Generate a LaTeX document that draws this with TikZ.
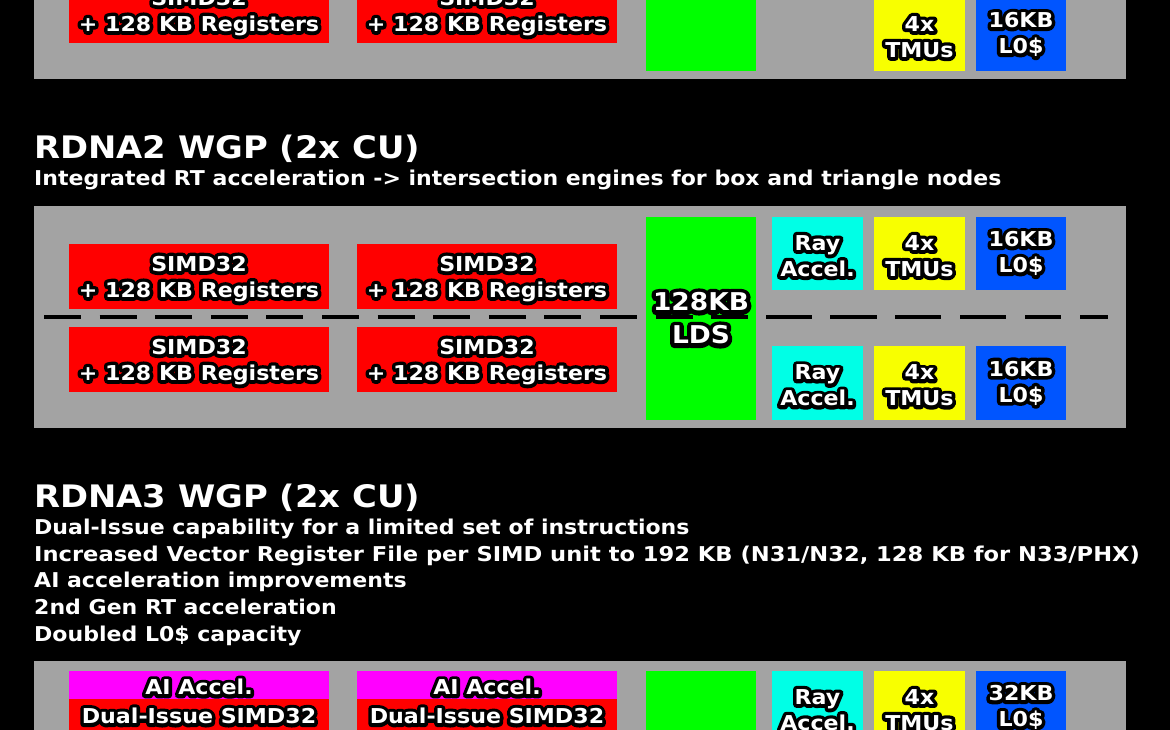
\documentclass[tikz,border=0pt]{standalone}
\usepackage{fontspec}
\setmainfont{DejaVu Sans}[FakeStretch=1.08]
\newfontfamily\olfont{DejaVu Sans}[FakeStretch=1.08, BoldFeatures={FakeBold=35}]
\definecolor{panelgray}{HTML}{A3A3A3}
\definecolor{simdred}{HTML}{FF0000}
\definecolor{ldsgreen}{HTML}{00FF00}
\definecolor{raycyan}{HTML}{00FFE6}
\definecolor{tmuyellow}{HTML}{F8FF00}
\definecolor{cacheblue}{HTML}{0055FF}
\definecolor{aimagenta}{HTML}{FF00FF}
\newcommand\olt[1]{\mbox{\special{pdf:code 1 j}\makebox[0pt][l]{\olfont\color{black}#1}\color{white}#1}}
\newcommand\fl{\rule{0pt}{20pt}}
\begin{document}
\begin{tikzpicture}[x=1pt,y=-1pt,
  box/.style={draw=none, inner sep=0pt, outer sep=0pt, align=center,
    font=\bfseries\fontsize{20.5}{26}\selectfont},
  bigbox/.style={box, font=\bfseries\fontsize{24.5}{33}\selectfont},
  lbl/.style={inner sep=0pt, align=center, font=\bfseries\fontsize{20.5}{26}\selectfont},
  title/.style={anchor=base west, inner sep=0pt, text=white,
    font=\bfseries\fontsize{31}{36}\selectfont},
  subline/.style={anchor=base west, inner sep=0pt, text=white,
    font=\bfseries\fontsize{20.4}{26}\selectfont},
  sep/.style={line width=3.5pt, draw=black}]
\useasboundingbox (0,0) rectangle (1170,730);
\clip (0,0) rectangle (1170,730);
\fill[black] (0,0) rectangle (1170,730);

% ---------- top panel (cut off) ----------
\fill[panelgray] (34,-200) rectangle (1126,79);
\node[box, fill=simdred, minimum width=260, minimum height=65] (t1) at (199,10.5) {\fl\olt{SIMD32}\\\olt{+ 128 KB Registers}};
\node[box, fill=simdred, minimum width=260, minimum height=65] (t2) at (487,10.5) {\fl\olt{SIMD32}\\\olt{+ 128 KB Registers}};
\fill[ldsgreen] (646,-150) rectangle (756,71);
\node[box, fill=tmuyellow, minimum width=91, minimum height=73] (t3) at (919.5,34.5) {\fl\olt{4x}\\\olt{TMUs}};
\node[box, fill=cacheblue, minimum width=90, minimum height=73] (t4) at (1021,34.5) {\olt{16KB}\\\olt{L0\$}};

% ---------- RDNA2 ----------
\node[title] (h2) at (34,159) {\scalebox{1.01}[1]{RDNA2 WGP (2x CU)}};
\node[subline] (s2) at (34,186) {Integrated RT acceleration -> intersection engines for box and triangle nodes};
\fill[panelgray] (34,206) rectangle (1126,428);
\node[box, fill=simdred, minimum width=260, minimum height=65] (m1) at (199,276.5) {\fl\olt{SIMD32}\\\olt{+ 128 KB Registers}};
\node[box, fill=simdred, minimum width=260, minimum height=65] (m2) at (487,276.5) {\fl\olt{SIMD32}\\\olt{+ 128 KB Registers}};
\node[box, fill=simdred, minimum width=260, minimum height=65] (m3) at (199,359.5) {\fl\olt{SIMD32}\\\olt{+ 128 KB Registers}};
\node[box, fill=simdred, minimum width=260, minimum height=65] (m4) at (487,359.5) {\fl\olt{SIMD32}\\\olt{+ 128 KB Registers}};
\node[bigbox, fill=ldsgreen, minimum width=110, minimum height=203] (lds) at (701,318.5) {};
\node[box, fill=raycyan, minimum width=91, minimum height=73] (ra1) at (817.5,253.5) {\fl\olt{Ray}\\\olt{Accel.}};
\node[box, fill=tmuyellow, minimum width=91, minimum height=73] (tm1) at (919.5,253.5) {\fl\olt{4x}\\\olt{TMUs}};
\node[box, fill=cacheblue, minimum width=90, minimum height=73] (lc1) at (1021,253.5) {\olt{16KB}\\\olt{L0\$}};
\node[box, fill=raycyan, minimum width=91, minimum height=74] (ra2) at (817.5,383) {\fl\olt{Ray}\\\olt{Accel.}};
\node[box, fill=tmuyellow, minimum width=91, minimum height=74] (tm2) at (919.5,383) {\fl\olt{4x}\\\olt{TMUs}};
\node[box, fill=cacheblue, minimum width=90, minimum height=74] (lc2) at (1021,383) {\olt{16KB}\\\olt{L0\$}};
\draw[sep, dash pattern=on 37pt off 18.6pt] (44,317) -- (748,317);
\draw[sep] (766,317) -- (812,317);
\draw[sep] (830,317) -- (877,317);
\draw[sep] (895,317) -- (941,317);
\draw[sep] (960,317) -- (1006,317);
\draw[sep] (1025,317) -- (1061,317);
\draw[sep] (1080,317) -- (1108,317);
\node[bigbox] (ldst) at (lds.center) {\olt{128KB}\\\olt{LDS}};

% ---------- RDNA3 ----------
\node[title] (h3) at (34,507) {\scalebox{1.01}[1]{RDNA3 WGP (2x CU)}};
\node[subline] (l1) at (34,534) {Dual-Issue capability for a limited set of instructions};
\node[subline] (l2) at (34,561) {\scalebox{1.025}[1]{Increased Vector Register File per SIMD unit to 192 KB (N31/N32, 128 KB for N33/PHX)}};
\node[subline] (l3) at (34,587.5) {AI acceleration improvements};
\node[subline] (l4) at (34,614) {2nd Gen RT acceleration};
\node[subline] (l5) at (34,641) {Doubled L0\$ capacity};
\fill[panelgray] (34,661) rectangle (1126,800);
\node[box, fill=aimagenta, minimum width=260, minimum height=28] (ai1) at (199,685) {\fl\olt{AI Accel.}};
\node[box, fill=aimagenta, minimum width=260, minimum height=28] (ai2) at (487,685) {\fl\olt{AI Accel.}};
\fill[simdred] (69,699) rectangle (329,800);
\fill[simdred] (357,699) rectangle (617,800);
\node[lbl] (d1) at (199,716) {\olt{Dual-Issue SIMD32}};
\node[lbl] (d2) at (487,716) {\olt{Dual-Issue SIMD32}};
\fill[ldsgreen] (646,671) rectangle (756,900);
\node[box, fill=raycyan, minimum width=91, minimum height=73] (ra3) at (817.5,707.5) {\fl\olt{Ray}\\\olt{Accel.}};
\node[box, fill=tmuyellow, minimum width=91, minimum height=73] (tm3) at (919.5,707.5) {\fl\olt{4x}\\\olt{TMUs}};
\node[box, fill=cacheblue, minimum width=90, minimum height=73] (lc3) at (1021,707.5) {\olt{32KB}\\\olt{L0\$}};
\end{tikzpicture}
\end{document}
